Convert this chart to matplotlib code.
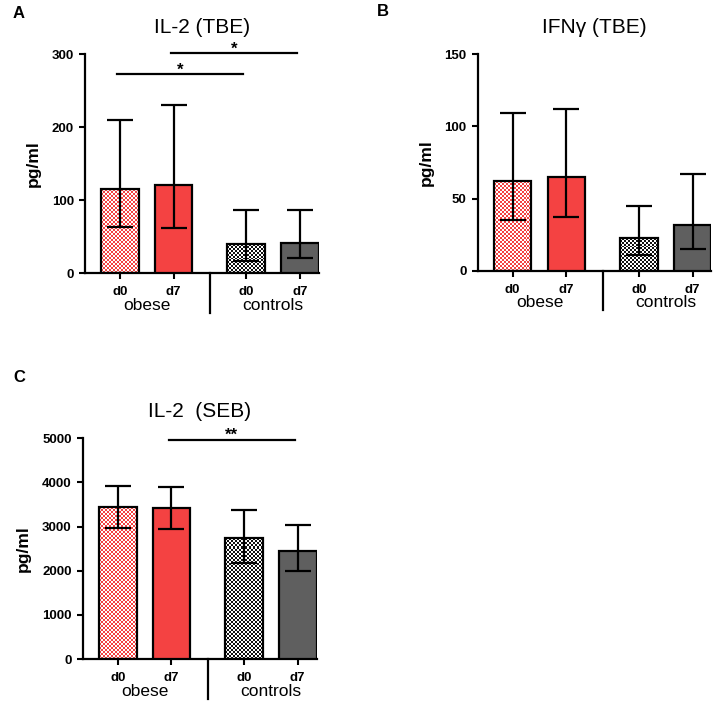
import numpy as np
import matplotlib
matplotlib.use('Agg')
import matplotlib.pyplot as plt
from matplotlib.colors import ListedColormap

plt.rcParams['font.family'] = ['Liberation Sans', 'DejaVu Sans']

BAR_LABELS = ['d0', 'd7', 'd0', 'd7']
GROUPS = ['obese', 'controls']

# panel A: IL-2 (TBE)
il2_tbe_mean = [115, 120, 40, 41]
il2_tbe_upper = [209, 230, 87, 86]
il2_tbe_lower = [63, 62, 17, 20]
il2_tbe_ticks = [0, 100, 200, 300]
il2_tbe_sig = [(0, 2, 272, '*'), (1, 3, 301, '*')]

# panel B: IFNy (TBE)
ifng_tbe_mean = [62, 65, 23, 32]
ifng_tbe_upper = [109, 112, 45, 67]
ifng_tbe_lower = [35, 37, 11, 15]
ifng_tbe_ticks = [0, 50, 100, 150]
ifng_tbe_sig = []

# panel C: IL-2 (SEB)
il2_seb_mean = [3430, 3410, 2730, 2450]
il2_seb_upper = [3920, 3900, 3370, 3030]
il2_seb_lower = [2970, 2950, 2180, 2000]
il2_seb_ticks = [0, 1000, 2000, 3000, 4000, 5000]
il2_seb_sig = [(1, 3, 4960, '**')]

POS = [0, 1, 2.35, 3.35]
WIDTH = 0.7
RED = '#f44242'
GREY = '#5f5f5f'


def checker_fill(ax, bar, c1, c2, cell=2.0):
  x0 = bar.get_x()
  x1 = x0 + bar.get_width()
  y1 = bar.get_height()
  (px0, py0), (px1, py1) = ax.transData.transform([(x0, 0), (x1, y1)])
  nx = max(1, int(round((px1 - px0) / cell)))
  ny = max(1, int(round((py1 - py0) / cell)))
  grid = np.add.outer(np.arange(ny), np.arange(nx)) % 2
  mesh = ax.pcolormesh(np.linspace(x0, x1, nx + 1), np.linspace(0, y1, ny + 1), grid,
                       cmap=ListedColormap([c1, c2]), shading='flat',
                       antialiased=False, zorder=1)
  mesh.set_clip_path(bar)


def draw_panel(ax, mean, upper, lower, ticks, sig, title):
  ymax = ticks[-1]
  ax.set_xlim(-0.65, 3.7)
  ax.set_ylim(0, ymax)

  faces = ['none', RED, 'none', GREY]
  bars = ax.bar(POS, mean, width=WIDTH, color=faces, edgecolor='black',
                linewidth=1.6, zorder=3)
  checker_fill(ax, bars[0], 'white', RED)
  checker_fill(ax, bars[2], 'white', '#111111')

  mean = np.array(mean)
  yerr = [mean - np.array(lower), np.array(upper) - mean]
  ax.errorbar(POS, mean, yerr=yerr, fmt='none', ecolor='black',
              elinewidth=1.6, capsize=9.5, capthick=1.6, zorder=8)

  ax.set_xlim(-0.65, 3.7)
  ax.set_ylim(0, ymax)
  ax.set_yticks(ticks)
  ax.set_yticklabels([str(t) for t in ticks], fontsize=9.5, fontweight='bold')
  ax.set_xticks(POS)
  ax.set_xticklabels(BAR_LABELS, fontsize=9.5, fontweight='bold')
  ax.tick_params(width=1.5, length=4.5, direction='out')
  ax.tick_params(axis='x', pad=5)
  for s in ['top', 'right']:
    ax.spines[s].set_visible(False)
  for s in ['left', 'bottom']:
    ax.spines[s].set_linewidth(1.6)
  ax.set_ylabel('pg/ml', fontsize=12.5, fontweight='bold', labelpad=8)
  ax.set_title(title, fontsize=15, pad=15)

  # group labels and separator
  ax.text((POS[0] + POS[1]) / 2, -0.146, GROUPS[0], transform=ax.get_xaxis_transform(),
          ha='center', va='center', fontsize=12.5)
  ax.text((POS[2] + POS[3]) / 2, -0.146, GROUPS[1], transform=ax.get_xaxis_transform(),
          ha='center', va='center', fontsize=12.5)
  sep = (POS[1] + POS[2]) / 2
  ax.plot([sep, sep], [0, -0.18], color='black', lw=1.6,
          transform=ax.get_xaxis_transform(), clip_on=False)

  # significance bars
  for i, j, y, star in sig:
    ax.plot([POS[i] - 0.05, POS[j] - 0.05], [y, y], color='black', lw=1.6, clip_on=False)
    ax.text((POS[i] + POS[j]) / 2 - 0.05, y - ymax * 0.002, star, ha='center', va='baseline',
            fontsize=12, fontweight='bold')


fig = plt.figure(figsize=(7.26, 7.02), dpi=100)
ax_a = fig.add_axes([0.117, 0.611, 0.322, 0.312])
ax_b = fig.add_axes([0.658, 0.614, 0.322, 0.309])
ax_c = fig.add_axes([0.114, 0.061, 0.322, 0.315])

draw_panel(ax_a, il2_tbe_mean, il2_tbe_upper, il2_tbe_lower, il2_tbe_ticks, il2_tbe_sig, 'IL-2 (TBE)')
draw_panel(ax_b, ifng_tbe_mean, ifng_tbe_upper, ifng_tbe_lower, ifng_tbe_ticks, ifng_tbe_sig, 'IFNγ (TBE)')
draw_panel(ax_c, il2_seb_mean, il2_seb_upper, il2_seb_lower, il2_seb_ticks, il2_seb_sig, 'IL-2  (SEB)')

fig.text(13 / 726, 1 - 14 / 702, 'A', fontsize=12, fontweight='bold', va='center')
fig.text(377 / 726, 1 - 12 / 702, 'B', fontsize=12, fontweight='bold', va='center')
fig.text(13 / 726, 1 - 377 / 702, 'C', fontsize=12, fontweight='bold', va='center')

fig.savefig('out.png', dpi=100)
